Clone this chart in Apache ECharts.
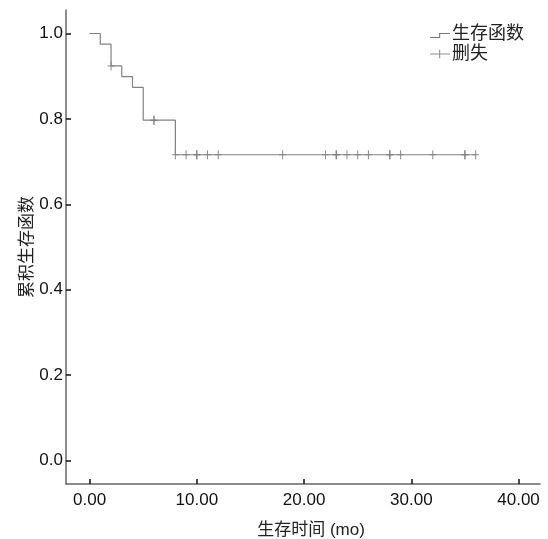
<!DOCTYPE html>
<html>
<head>
<meta charset="utf-8">
<script src="https://cdn.jsdelivr.net/npm/echarts@6/dist/echarts.min.js"></script>
<style>
  html, body { margin: 0; padding: 0; background: #fff; }
  #chart { width: 548px; height: 539px; }
</style>
</head>
<body>
<div id="chart"></div>
<script>
// 生存曲线 (Kaplan-Meier) 各阶梯点
var stepTimes = [0, 1, 2, 3, 4, 5, 8, 36];
var stepSurv = [1.0, 0.975, 0.924, 0.899, 0.874, 0.797, 0.716, 0.716];
// 删失点
var censorTimes = [2, 6, 6, 8, 9, 10, 10, 11, 12, 18, 22, 23, 23, 24, 25, 26, 28, 28, 29, 32, 35, 35, 36];
var censorSurv = [0.924, 0.797, 0.797, 0.716, 0.716, 0.716, 0.716, 0.716, 0.716, 0.716, 0.716, 0.716,
                  0.716, 0.716, 0.716, 0.716, 0.716, 0.716, 0.716, 0.716, 0.716, 0.716, 0.716];
var xTicks = [0, 10, 20, 30, 40];
var yTicks = [0, 0.2, 0.4, 0.6, 0.8, 1.0];

var latin = 'Liberation Sans, Arial, sans-serif';
var cjk = 'Liberation Sans, Noto Sans CJK SC, sans-serif';

var myChart = echarts.init(document.getElementById('chart'));

// 图例图标：阶梯线 / 加号
var stepIcon = 'path://M0,0h0.01v0.01h-0.01z M0,7.8h10v-4.5h12v1.2h-10.8v4.5h-11.2z';
var plusIcon = 'path://M0,4h10v-4h1.2v4h10.8v1.2h-10.8v4h-1.2v-4h-10z';

var option = {
  animation: false,
  grid: { left: 66, right: 8, top: 10, bottom: 55, outerBoundsMode: 'none' },
  legend: {
    orient: 'vertical',
    left: 425,
    top: 20,
    itemWidth: 20,
    itemHeight: 9,
    itemGap: 2,
    textStyle: { fontFamily: cjk, fontSize: 18, color: '#222', padding: [0, 0, 0, -3] },
    data: [
      { name: '生存函数', icon: stepIcon, itemStyle: { color: '#777' } },
      { name: '删失', icon: plusIcon, itemStyle: { color: '#777' } }
    ]
  },
  xAxis: {
    type: 'value',
    min: -2.2,
    max: 42,
    name: '生存时间 (mo)',
    nameLocation: 'middle',
    nameGap: 38,
    nameMoveOverlap: false,
    nameTextStyle: { fontFamily: cjk, fontSize: 17, color: '#222', padding: [0, 0, 0, 16] },
    splitLine: { show: false },
    axisLine: { onZero: false, lineStyle: { color: '#666', width: 1.5 } },
    axisTick: { show: true, inside: true, length: 5, lineStyle: { color: '#111', width: 1.5 }, customValues: xTicks },
    axisLabel: {
      customValues: xTicks,
      fontFamily: latin, fontSize: 17, color: '#111', margin: 8,
      formatter: function (v) { return v.toFixed(2); }
    }
  },
  yAxis: {
    type: 'value',
    min: -0.055,
    max: 1.055,
    name: '累积生存函数',
    nameLocation: 'middle',
    nameGap: 30,
    nameMoveOverlap: false,
    nameTextStyle: { fontFamily: cjk, fontSize: 17, color: '#222' },
    splitLine: { show: false },
    axisLine: { onZero: false, lineStyle: { color: '#666', width: 1.5 } },
    axisTick: { show: true, inside: true, length: 5, lineStyle: { color: '#111', width: 1.5 }, customValues: yTicks },
    axisLabel: {
      customValues: yTicks,
      fontFamily: latin, fontSize: 17, color: '#111', margin: 3,
      formatter: function (v) { return v.toFixed(1); }
    }
  },
  series: [
    {
      name: '生存函数',
      type: 'line',
      step: 'end',
      showSymbol: false,
      lineStyle: { color: '#828282', width: 1.2 },
      itemStyle: { color: '#777' },
      data: stepTimes.map(function (t, i) { return [t, stepSurv[i]]; })
    },
    {
      name: '删失',
      type: 'scatter',
      symbol: 'path://M3,0h1v4h3v1h-3v4h-1v-4h-3v-1h3z',
      symbolSize: [7, 9],
      itemStyle: { color: '#6e6e6e' },
      data: censorTimes.map(function (t, i) { return [t, censorSurv[i]]; })
    }
  ]
};

myChart.setOption(option);
</script>
</body>
</html>
